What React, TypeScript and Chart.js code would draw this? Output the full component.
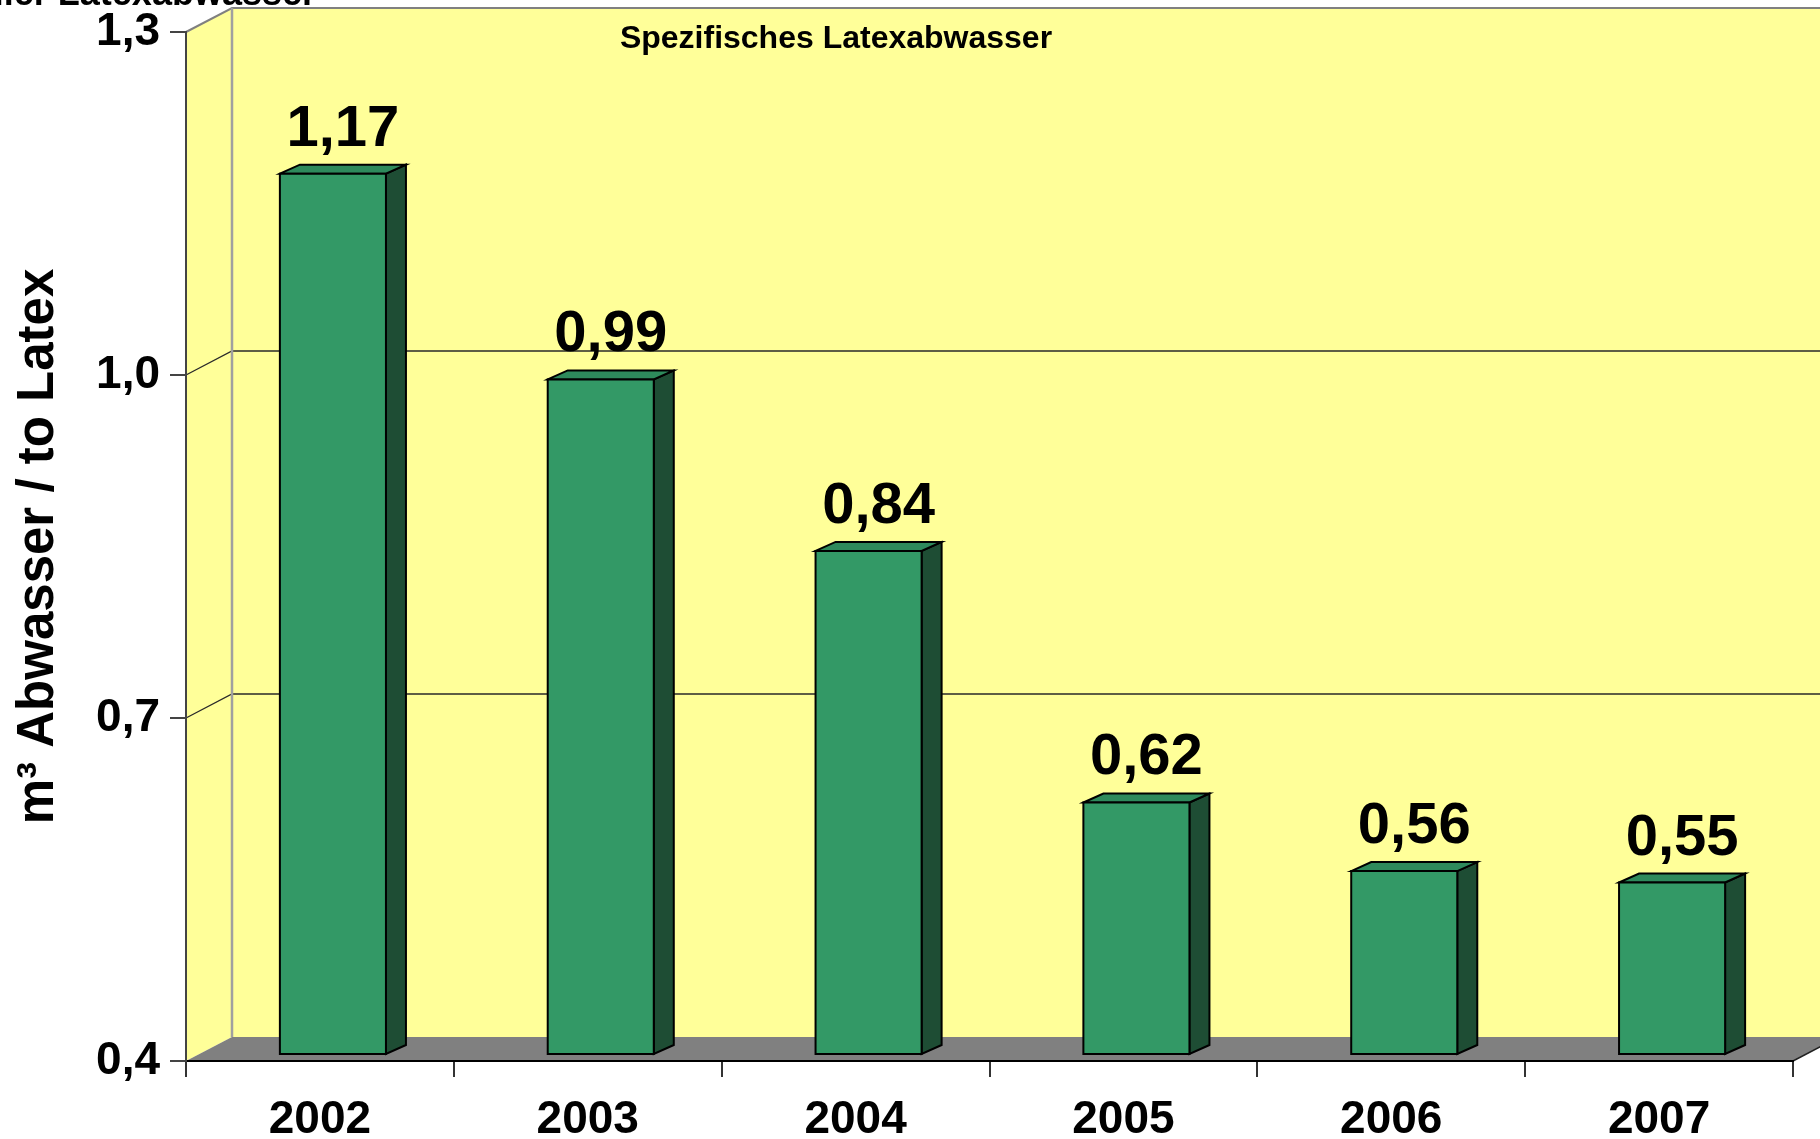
import { useEffect, useRef } from "react";
import { Chart, registerables } from "chart.js";

Chart.register(...registerables);

const categories = ["2002", "2003", "2004", "2005", "2006", "2007"];
const values = [1.17, 0.99, 0.84, 0.62, 0.56, 0.55];
const yTicks = [0.4, 0.7, 1.0, 1.3];
const chartTitle = "Spezifisches Latexabwasser";
const cutTitle = "aller Latexabwasser";
const yAxisTitle = "m³ Abwasser / to Latex";

const FONT = '"Liberation Sans", Arial, Helvetica, sans-serif';
const DX = 46;
const DY = -24;
const OX = 13;
const OY = -7;
const BX = 20;
const BY = -9;

const fmt = (v: number, d: number) => v.toFixed(d).replace(".", ",");

const threeD = {
  id: "threeD",
  beforeDraw(chart: any) {
    const { ctx, chartArea, scales } = chart;
    const { left, right, top, bottom } = chartArea;
    const y = scales.y;
    ctx.save();
    // side wall
    ctx.fillStyle = "#FFFF99";
    ctx.beginPath();
    ctx.moveTo(left, top);
    ctx.lineTo(left + DX, top + DY);
    ctx.lineTo(left + DX, bottom + DY);
    ctx.lineTo(left, bottom);
    ctx.closePath();
    ctx.fill();
    // back wall
    ctx.fillRect(left + DX, top + DY, right + DX - (left + DX) + 2, bottom - top);
    // floor
    ctx.fillStyle = "#808080";
    ctx.beginPath();
    ctx.moveTo(left, bottom);
    ctx.lineTo(right, bottom);
    ctx.lineTo(right + DX, bottom + DY);
    ctx.lineTo(left + DX, bottom + DY);
    ctx.closePath();
    ctx.fill();
    // gridlines
    ctx.strokeStyle = "#2a2a2a";
    ctx.lineWidth = 1.3;
    const min = y.min, max = y.max;
    yTicks.forEach((v) => {
      if (v <= min || v >= max) return;
      const yy = y.getPixelForValue(v);
      ctx.beginPath();
      ctx.moveTo(left, yy);
      ctx.lineTo(left + DX, yy + DY);
      ctx.lineTo(right + DX + 2, yy + DY);
      ctx.stroke();
    });
    // edges
    ctx.strokeStyle = "#808080";
    ctx.lineWidth = 2;
    ctx.beginPath();
    ctx.moveTo(left, top);
    ctx.lineTo(left + DX, top + DY);
    ctx.lineTo(right + DX + 2, top + DY);
    ctx.stroke();
    ctx.strokeStyle = "#a0a0a0";
    ctx.lineWidth = 2.5;
    ctx.beginPath();
    ctx.moveTo(left + DX, top + DY);
    ctx.lineTo(left + DX, bottom + DY);
    ctx.stroke();
    ctx.strokeStyle = "#222";
    ctx.lineWidth = 1.5;
    ctx.beginPath();
    ctx.moveTo(right, bottom);
    ctx.lineTo(right + DX, bottom + DY);
    ctx.stroke();
    ctx.restore();
  },
  afterDatasetsDraw(chart: any) {
    const { ctx, chartArea, scales } = chart;
    const floorPx = scales.y.getPixelForValue(scales.y.min);
    const meta = chart.getDatasetMeta(0);
    ctx.save();
    ctx.lineWidth = 2;
    ctx.strokeStyle = "#000";
    ctx.lineJoin = "miter";
    meta.data.forEach((bar: any, i: number) => {
      const { x, y, base, width } = bar.getProps(["x", "y", "base", "width"], true);
      const L = x - width / 2 + OX;
      const R = x + width / 2 + OX;
      const T = y + OY;
      const B = Math.min(base, floorPx, chartArea.bottom) + OY;
      // side face
      ctx.fillStyle = "#1E4D34";
      ctx.beginPath();
      ctx.moveTo(R, T);
      ctx.lineTo(R + BX, T + BY);
      ctx.lineTo(R + BX, B + BY);
      ctx.lineTo(R, B);
      ctx.closePath();
      ctx.fill();
      ctx.stroke();
      // top face
      ctx.fillStyle = "#2E8A5C";
      ctx.beginPath();
      ctx.moveTo(L, T);
      ctx.lineTo(L + BX, T + BY);
      ctx.lineTo(R + BX, T + BY);
      ctx.lineTo(R, T);
      ctx.closePath();
      ctx.fill();
      ctx.stroke();
      // front face
      ctx.fillStyle = "#339966";
      ctx.beginPath();
      ctx.rect(L, T, R - L, B - T);
      ctx.fill();
      ctx.stroke();
      // label
      ctx.fillStyle = "#000";
      ctx.font = `bold 58px ${FONT}`;
      ctx.textAlign = "center";
      ctx.textBaseline = "alphabetic";
      ctx.fillText(fmt(values[i], 2), (L + R) / 2 + BX / 2, T + BY - 19);
    });
    ctx.restore();
  },
  afterDraw(chart: any) {
    const { ctx } = chart;
    ctx.save();
    ctx.fillStyle = "#000";
    ctx.textBaseline = "alphabetic";
    ctx.font = `bold 32px ${FONT}`;
    ctx.textAlign = "center";
    ctx.fillText(chartTitle, 836, 48);
    ctx.font = `bold 36px ${FONT}`;
    ctx.textAlign = "right";
    ctx.fillText(cutTitle, 316, 5);
    ctx.restore();
  },
};

export default function App() {
  const ref = useRef<HTMLCanvasElement | null>(null);
  useEffect(() => {
    document.body.style.margin = "0";
    const canvas = ref.current;
    if (!canvas) return;
    const chart = new Chart(canvas, {
      type: "bar",
      data: {
        labels: categories,
        datasets: [
          {
            data: values,
            backgroundColor: "rgba(0,0,0,0)",
            borderWidth: 0,
            categoryPercentage: 1,
            barPercentage: 0.396,
          },
        ],
      },
      options: {
        animation: false,
        responsive: false,
        maintainAspectRatio: false,
        events: [],
        layout: { padding: { left: 0, right: 27, top: 32, bottom: 0 } },
        plugins: {
          legend: { display: false },
          tooltip: { enabled: false },
          title: { display: false },
        },
        scales: {
          x: {
            type: "category",
            offset: true,
            grid: {
              offset: true,
              drawOnChartArea: false,
              tickLength: 16,
              color: "#333",
              lineWidth: 2,
            },
            border: { color: "#000", width: 2 },
            ticks: {
              color: "#000",
              font: { family: FONT, size: 46, weight: "bold" },
              padding: 16,
              maxRotation: 0,
              autoSkip: false,
            },
            afterFit: (s: any) => {
              s.height = 78;
              s.paddingLeft = 0;
              s.paddingRight = 0;
            },
          },
          y: {
            type: "linear",
            min: 0.4,
            max: 1.3,
            afterBuildTicks: (s: any) => {
              s.ticks = yTicks.map((v) => ({ value: v }));
            },
            grid: {
              drawOnChartArea: false,
              tickLength: 16,
              color: "#444",
              lineWidth: 2,
            },
            border: { color: "#444", width: 2 },
            ticks: {
              color: "#000",
              font: { family: FONT, size: 46, weight: "bold" },
              padding: 10,
              callback: (v: any) => fmt(Number(v), 1),
            },
            title: {
              display: true,
              text: yAxisTitle,
              color: "#000",
              font: { family: FONT, size: 51, weight: "bold" },
              padding: { top: 8, bottom: 0 },
            },
            afterFit: (s: any) => {
              s.width = 186;
              s.paddingTop = 0;
              s.paddingBottom = 0;
            },
          },
        },
      } as any,
      plugins: [threeD],
    });
    return () => chart.destroy();
  }, []);
  return (
    <div style={{ width: 1820, height: 1139, overflow: "hidden" }}>
      <canvas ref={ref} width={1820} height={1139} style={{ display: "block" }} />
    </div>
  );
}
